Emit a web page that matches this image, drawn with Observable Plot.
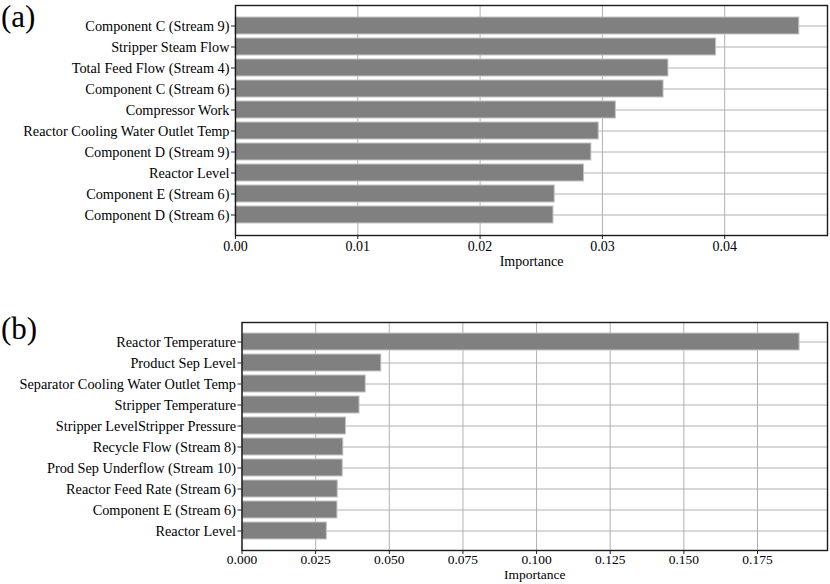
<!DOCTYPE html>
<html>
<head>
<meta charset="utf-8">
<script src="https://cdn.jsdelivr.net/npm/d3@7"></script>
<script src="https://cdn.jsdelivr.net/npm/@observablehq/plot@0.6"></script>
<style>
  body { margin: 0; background: #fff; }
  #wrap { position: relative; width: 830px; height: 584px; overflow: hidden; background: #fff; }
  .panel { position: absolute; left: 0; }
  .tag { position: absolute; left: 1px; font-family: "Liberation Serif", serif; font-size: 31px; line-height: 1.1; color: #000; }
</style>
</head>
<body>
<div id="wrap">
  <div class="panel" id="pa" style="top:0px"></div>
  <div class="panel" id="pb" style="top:280px"></div>
  <div class="tag" style="top:0px;">(a)</div>
  <div class="tag" style="top:312px;">(b)</div>
</div>
<script>
// ---- Data: panel (a)
const featuresA = [
  "Component C (Stream 9)",
  "Stripper Steam Flow",
  "Total Feed Flow (Stream 4)",
  "Component C (Stream 6)",
  "Compressor Work",
  "Reactor Cooling Water Outlet Temp",
  "Component D (Stream 9)",
  "Reactor Level",
  "Component E (Stream 6)",
  "Component D (Stream 6)"
];
const importanceA = [0.0461, 0.0393, 0.0354, 0.0350, 0.0311, 0.0297, 0.0291, 0.0285, 0.0261, 0.0260];
const ticksA = [0, 0.01, 0.02, 0.03, 0.04];

// ---- Data: panel (b)
const featuresB = [
  "Reactor Temperature",
  "Product Sep Level",
  "Separator Cooling Water Outlet Temp",
  "Stripper Temperature",
  "Stripper LevelStripper Pressure",
  "Recycle Flow (Stream 8)",
  "Prod Sep Underflow (Stream 10)",
  "Reactor Feed Rate (Stream 6)",
  "Component E (Stream 6)",
  "Reactor Level"
];
const importanceB = [0.1893, 0.0473, 0.0420, 0.0399, 0.0353, 0.0344, 0.0342, 0.0325, 0.0324, 0.0288];
const ticksB = [0, 0.025, 0.05, 0.075, 0.1, 0.125, 0.15, 0.175];

const axisLabel = "Importance";

function panel(features, values, ticks, fmt, o) {
  const data = features.map((f, i) => ({feature: f, value: values[i]}));
  const xmax = d3.max(values) * 1.05;
  return Plot.plot({
    width: 830,
    height: o.height,
    marginLeft: o.ml,
    marginRight: 3,
    marginTop: o.mt,
    marginBottom: o.mb,
    style: {fontFamily: "'Liberation Serif', serif", fontSize: "14px", color: "#000", background: "white", overflow: "visible"},
    x: {domain: [0, xmax]},
    y: {domain: features, paddingInner: 0.2, paddingOuter: 0.49, align: 0.5},
    marks: [
      Plot.gridX(ticks, {stroke: "#b0b0b0", strokeOpacity: 1, strokeWidth: 1}),
      Plot.gridY(features, {stroke: "#b0b0b0", strokeOpacity: 1, strokeWidth: 1}),
      Plot.barX(data, {x: "value", y: "feature", fill: "#808080", stroke: "#c4c4c4", strokeWidth: 1}),
      Plot.frame({stroke: "#1a1a1a", strokeWidth: 1.4}),
      Plot.axisX(ticks, {tickFormat: fmt, tickSize: 4, tickPadding: o.tp, label: null, fontSize: o.fs, stroke: "#222", fill: "#000"}),
      Plot.axisY({tickSize: 4, tickPadding: 2, label: null, fontSize: 14.3, stroke: "#222", fill: "#000"}),
      Plot.text([axisLabel], {frameAnchor: "bottom", dy: o.ldy, fontSize: o.fs, fill: "#000"})
    ]
  });
}

document.getElementById("pa").appendChild(
  panel(featuresA, importanceA, ticksA, d3.format(".2f"), {height: 275, ml: 235, mt: 5, mb: 40, tp: 2, fs: 14, ldy: 30})
);
document.getElementById("pb").appendChild(
  panel(featuresB, importanceB, ticksB, d3.format(".3f"), {height: 304, ml: 241.5, mt: 42, mb: 34, tp: 0, fs: 13.5, ldy: 28})
);
</script>
</body>
</html>
